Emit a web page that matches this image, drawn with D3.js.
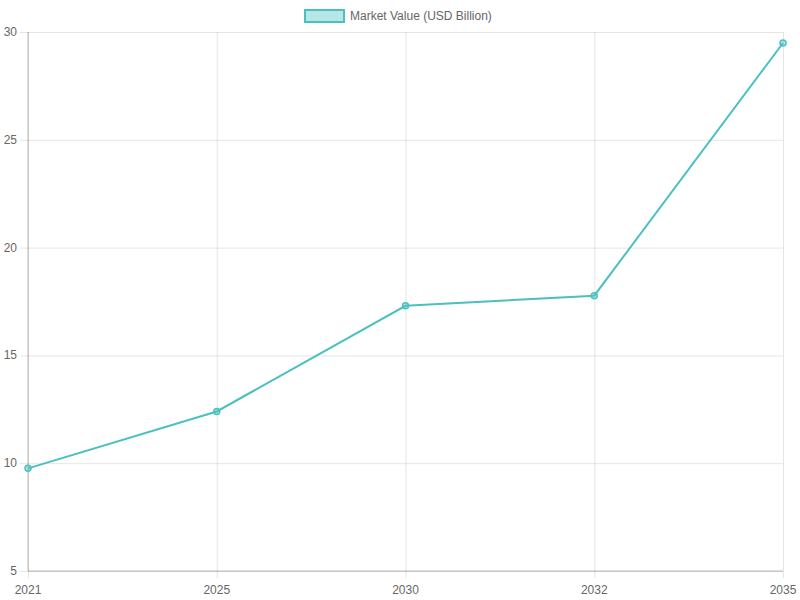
<!DOCTYPE html>
<html>
<head>
<meta charset="utf-8">
<script src="https://cdn.jsdelivr.net/npm/d3@7"></script>
<style>
body{margin:0;background:#fff;}
svg{font-family:"Liberation Sans",Arial,sans-serif;}
</style>
</head>
<body>
<div id="main_div"></div>
<script>
let years=["2021","2025","2030","2032","2035"];
let values=[9.76,12.4,17.3,17.77,29.49];
let yTicks=[5,10,15,20,25,30];
let seriesName="Market Value (USD Billion)";

let size=[800,600];
let plot={left:28,right:783,top:32,bottom:571};
let lineColor="rgb(75,192,192)";
let fillColor="rgba(75,192,192,0.4)";
let gridColor="rgba(0,0,0,0.1)";

let svg=d3.select("#main_div")
    .append("svg")
    .attr("width",size[0])
    .attr("height",size[1]);

/**scales */
let xScale=d3.scalePoint()
    .domain(years)
    .range([plot.left,plot.right]);

let yScale=d3.scaleLinear()
    .domain([5,30])
    .range([plot.bottom,plot.top]);

/**grid lines */
let yAxis=d3.axisLeft(yScale)
    .tickValues(yTicks)
    .tickSize(-(plot.right-plot.left)-8)
    .tickPadding(3);

let xAxis=d3.axisBottom(xScale)
    .tickSize(-(plot.bottom-plot.top)-7)
    .tickPadding(10);

let yG=svg.append("g")
    .attr("transform","translate("+(plot.right)+",0)")
    .call(d3.axisLeft(yScale).tickValues(yTicks).tickSize(plot.right-plot.left+8).tickFormat(""));
yG.select(".domain").remove();
yG.selectAll("line").attr("stroke",gridColor);

let xG=svg.append("g")
    .attr("transform","translate(0,"+(plot.top)+")")
    .call(d3.axisBottom(xScale).tickSize(plot.bottom-plot.top+7).tickFormat(""));
xG.select(".domain").remove();
xG.selectAll("line").attr("stroke",gridColor);

/**axis lines */
svg.append("line")
    .attr("x1",plot.left).attr("x2",plot.left)
    .attr("y1",plot.top).attr("y2",plot.bottom)
    .attr("stroke","rgba(0,0,0,0.25)");
svg.append("line")
    .attr("x1",plot.left).attr("x2",plot.right)
    .attr("y1",plot.bottom).attr("y2",plot.bottom)
    .attr("stroke","rgba(0,0,0,0.25)");

/**tick labels */
svg.selectAll(".ylab")
    .data(yTicks)
    .enter()
    .append("text")
    .attr("class","ylab")
    .attr("x",17)
    .attr("y",d=>yScale(d)+4)
    .attr("text-anchor","end")
    .attr("fill","#666")
    .style("font-size","12px")
    .text(d=>d);

svg.selectAll(".xlab")
    .data(years)
    .enter()
    .append("text")
    .attr("class","xlab")
    .attr("x",d=>xScale(d))
    .attr("y",594)
    .attr("text-anchor","middle")
    .attr("fill","#666")
    .style("font-size","12px")
    .text(d=>d);

/**line */
let line=d3.line()
    .x((d,i)=>xScale(years[i]))
    .y(d=>yScale(d));

svg.append("path")
    .datum(values)
    .attr("d",line)
    .attr("fill","none")
    .attr("stroke",lineColor)
    .attr("stroke-width",2);

svg.selectAll(".pt")
    .data(values)
    .enter()
    .append("circle")
    .attr("class","pt")
    .attr("cx",(d,i)=>xScale(years[i]))
    .attr("cy",d=>yScale(d))
    .attr("r",3)
    .attr("fill",fillColor)
    .attr("stroke",lineColor)
    .attr("stroke-width",1.5);

/**legend */
svg.append("rect")
    .attr("x",305)
    .attr("y",10)
    .attr("width",39)
    .attr("height",12)
    .attr("fill",fillColor)
    .attr("stroke",lineColor)
    .attr("stroke-width",2);

svg.append("text")
    .attr("x",350)
    .attr("y",20)
    .attr("fill","#666")
    .style("font-size","12px")
    .text(seriesName);
</script>
</body>
</html>
